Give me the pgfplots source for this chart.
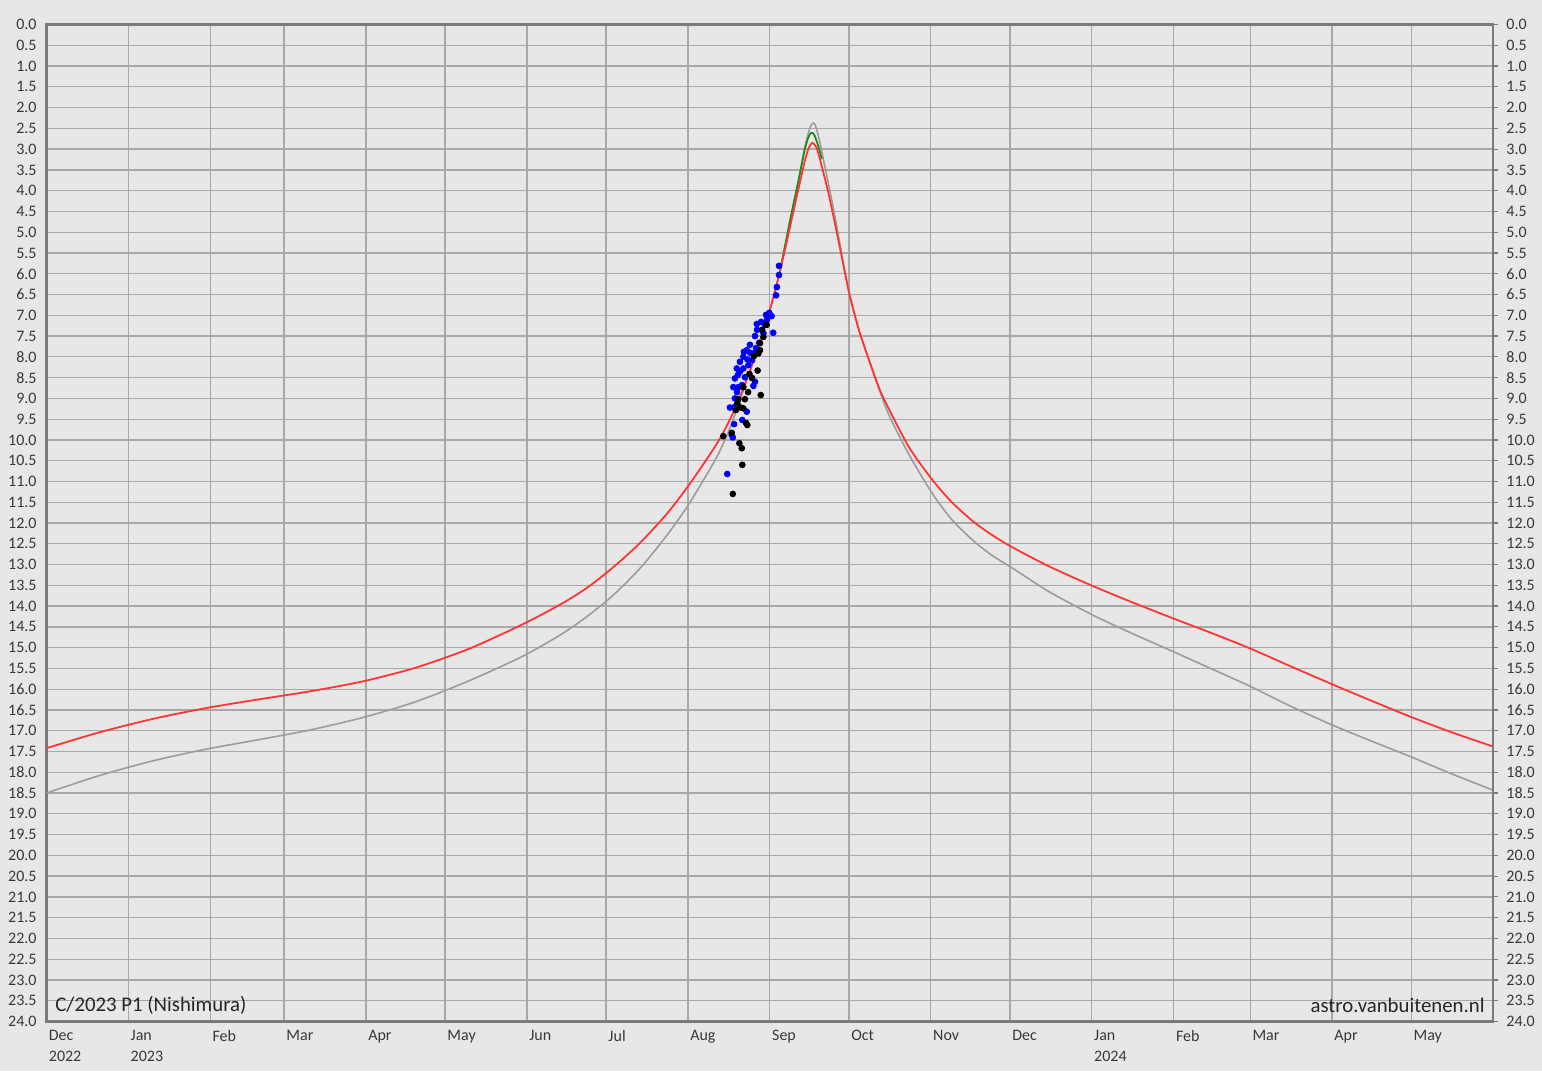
\documentclass[border=0pt]{standalone}
\usepackage{pgfplots}
\pgfplotsset{compat=1.18}
\usepackage{fontspec}
\setmainfont{Carlito}
\definecolor{bg}{HTML}{E7E7E7}
\definecolor{gridc}{HTML}{A8A8A8}
\definecolor{framec}{HTML}{7A7A7A}
\definecolor{txt}{HTML}{383838}
\definecolor{redc}{HTML}{FF3535}
\definecolor{grayc}{HTML}{9C9C9C}
\definecolor{greenc}{HTML}{1F8A1F}

\pgfplotstableread{
d m
0 17.42
20 17.04
40 16.72
60 16.46
80 16.25
100 16.05
120 15.81
140 15.48
160 15.03
180 14.45
195 13.95
205 13.55
215 13.05
225 12.47
235 11.78
243 11.12
251 10.38
255 9.98
259 9.50
263 8.92
267 8.25
271 7.50
274 6.88
276 6.42
278 5.90
280 5.35
282 4.78
284 4.20
285 3.92
286.1 3.61
287.3 3.28
288.6 3.00
289.5 2.89
290.1 2.85
290.8 2.88
291.8 2.98
293.0 3.24
294.3 3.56
296.0 3.99
298 4.58
300.5 5.35
302.5 5.98
304.4 6.55
308 7.40
313 8.33
316 8.84
319.5 9.30
327 10.20
335.7 10.97
343 11.50
351 11.96
358 12.28
365.8 12.58
380 13.05
396.5 13.52
411 13.90
427 14.30
441 14.64
456 15.02
471 15.44
487 15.88
502 16.28
517 16.67
532 17.03
548 17.38
}\redtab

\pgfplotstableread{
d m
0 18.50
20 18.08
40 17.73
60 17.45
80 17.22
100 16.98
120 16.68
140 16.30
160 15.80
180 15.22
195 14.68
205 14.24
215 13.72
225 13.08
235 12.30
243 11.58
251 10.74
255 10.28
259 9.70
262 9.17
265 8.60
267 8.25
271 7.50
274 6.88
276 6.42
278 5.90
280 5.28
282 4.66
284.2 3.98
286.1 3.35
287.3 2.95
288.6 2.62
289.6 2.43
290.5 2.37
291.2 2.42
292 2.58
293 2.84
294.3 3.24
295.6 3.64
296.6 3.95
298.5 4.55
300.5 5.25
302.5 5.95
304.4 6.55
308 7.40
313 8.33
316 8.88
319.5 9.45
327 10.38
335.7 11.30
343 11.92
351 12.42
358 12.77
365.8 13.08
380 13.66
396.5 14.22
411 14.65
427 15.10
441 15.50
456 15.93
471 16.40
487 16.86
502 17.25
517 17.63
532 18.03
548 18.43
}\graytab

\pgfplotstableread{
d m
278 5.90
280 5.26
282 4.62
284.2 3.96
285.2 3.66
286.1 3.37
287.3 3.00
288.6 2.72
289.6 2.61
290.3 2.61
291.1 2.69
292.4 2.93
293.7 3.24
}\greentab

\pgfplotstableread{
d m
277.5 5.81
277.5 6.03
276.7 6.32
276.4 6.52
273.8 6.94
274.7 7.02
272.6 6.99
269.1 7.21
272.2 7.23
275.3 7.42
268.4 7.50
271.6 7.43
270.0 7.66
265.3 7.84
266.5 7.90
267.8 7.92
264.0 8.00
265.5 8.06
262.7 8.12
265.9 8.20
261.5 8.28
264.0 8.28
262.7 8.36
260.8 8.52
264.6 8.49
268.4 8.60
267.8 8.70
260.2 8.73
262.1 8.73
260.8 9.00
258.9 9.22
260.2 9.22
265.3 9.32
263.6 9.52
260.5 9.62
259.6 9.88
260.0 9.94
257.9 10.82
266.5 7.71
269.2 7.35
270.7 7.16
264.2 7.88
261.9 8.44
267.3 8.08
268.8 7.79
272.9 7.11
263.5 8.68
261.6 8.85
}\bluetab

\pgfplotstableread{
d m
272.8 7.23
271.6 7.52
270.3 7.67
269.7 7.92
269.4 8.33
266.3 8.41
264.0 8.73
270.6 8.92
262.1 9.02
261.7 9.12
264.6 9.02
263.0 9.22
264.0 9.24
265.0 9.59
265.5 9.64
256.4 9.91
259.6 9.83
262.5 10.08
263.4 10.20
263.6 10.60
260.0 11.30
271.1 7.35
268.0 7.98
270.3 7.84
267.3 8.51
265.8 8.85
261.2 9.28
}\blacktab

\begin{document}
\begin{tikzpicture}
\fill[bg] (-23.25pt,-24.75pt) rectangle (747.75pt,510.75pt);
\begin{axis}[
  at={(0,0)}, anchor=south west,
  width=723.25pt, height=498.5pt, scale only axis,
  xmin=0, xmax=548, ymin=0, ymax=24, y dir=reverse,
  xtick={0,31,62,90,121,151,182,212,243,274,304,335,365,396,427,456,487,517},
  xticklabels={{Dec\\2022},{Jan\\2023},Feb,Mar,Apr,May,Jun,Jul,Aug,Sep,Oct,Nov,Dec,{Jan\\2024},Feb,Mar,Apr,May},
  ytick={0,0.5,...,24},
  tick style={draw=none},
  grid=major,
  major grid style={color=gridc, line width=0.65pt},
  axis line style={color=framec, line width=1.2pt},
  xticklabel style={anchor=north west, inner sep=0pt, xshift=1pt, yshift=-4pt, align=left,
     font=\fontsize{8}{10.5}\selectfont, text=txt},
  yticklabel style={anchor=east, inner sep=0pt, xshift=-4.75pt, font=\fontsize{8}{9.6}\selectfont, text=txt,
     /pgf/number format/fixed, /pgf/number format/fixed zerofill,
     /pgf/number format/precision=1, /pgf/number format/assume math mode=true},
  axis background/.style={fill=bg},
]
\addplot[grayc, line width=0.8pt, smooth, tension=0.45] table[x=d, y=m] {\graytab};
\addplot[greenc, line width=0.9pt, smooth, tension=0.45] table[x=d, y=m] {\greentab};
\addplot[redc, line width=0.9pt, smooth, tension=0.45] table[x=d, y=m] {\redtab};
\addplot[only marks, mark=*, mark size=1.45pt, color=blue] table[x=d, y=m] {\bluetab};
\addplot[only marks, mark=*, mark size=1.45pt, color=black] table[x=d, y=m] {\blacktab};
\node[anchor=west, inner sep=0pt, font=\fontsize{10.4}{12}\selectfont, text=black!85] at ([xshift=4.25pt, yshift=8.25pt]axis description cs:0,0) {C/2023 P1 (Nishimura)};
\node[anchor=east, inner sep=0pt, font=\fontsize{10.4}{12}\selectfont, text=black!85] at ([xshift=-4pt, yshift=8.25pt]axis description cs:1,0) {astro.vanbuitenen.nl};
\end{axis}
\begin{axis}[
  at={(0,0)}, anchor=south west,
  width=723.25pt, height=498.5pt, scale only axis,
  xmin=0, xmax=548, ymin=0, ymax=24, y dir=reverse,
  axis x line=none, axis y line*=right,
  ytick={0,0.5,...,24},
  tick align=outside, major tick length=2.5pt,
  tick style={color=framec, line width=0.6pt},
  axis line style={color=framec, line width=1.2pt, -},
  yticklabel style={anchor=west, inner sep=0pt, xshift=4pt, font=\fontsize{8}{9.6}\selectfont, text=txt,
     /pgf/number format/fixed, /pgf/number format/fixed zerofill,
     /pgf/number format/precision=1, /pgf/number format/assume math mode=true},
]
\addplot[draw=none] coordinates {(0,0)};
\end{axis}
\pgfresetboundingbox
\path[use as bounding box] (-23.25pt,-24.75pt) rectangle (747.75pt,510.75pt);
\end{tikzpicture}
\end{document}
